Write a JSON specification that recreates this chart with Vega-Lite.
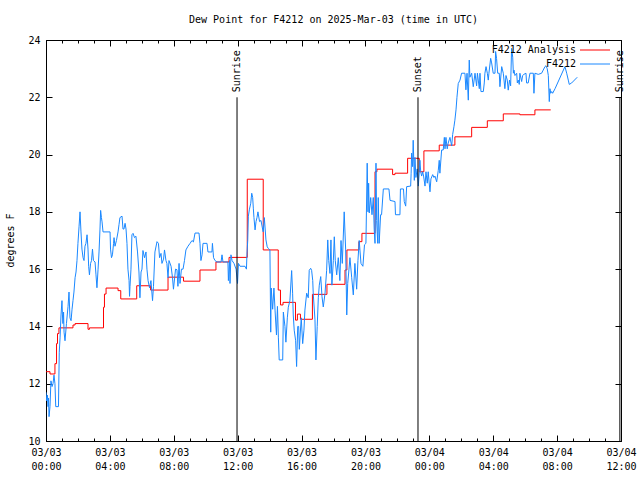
{
  "$schema": "https://vega.github.io/schema/vega-lite/v6.json",
  "width": 575,
  "height": 401,
  "autosize": {"type": "none"},
  "padding": {"left": 46, "top": 40, "right": 19, "bottom": 39},
  "background": "white",
  "title": {
    "text": "Dew Point for F4212 on 2025-Mar-03 (time in UTC)",
    "font": "DejaVu Sans Mono",
    "fontSize": 10,
    "fontWeight": "normal",
    "color": "black",
    "anchor": "middle",
    "offset": 10
  },
  "datasets": {
    "analysis": [
      {"hour": 0.00, "dew": 12.42}, {"hour": 0.25, "dew": 12.34}, {"hour": 0.56, "dew": 12.7}, {"hour": 0.66, "dew": 13.4},
      {"hour": 0.72, "dew": 13.75}, {"hour": 0.81, "dew": 13.95}, {"hour": 1.69, "dew": 14.05}, {"hour": 1.82, "dew": 14.1},
      {"hour": 2.63, "dew": 13.9}, {"hour": 2.72, "dew": 13.95}, {"hour": 3.60, "dew": 14.67}, {"hour": 3.66, "dew": 15.13},
      {"hour": 3.76, "dew": 15.34}, {"hour": 4.51, "dew": 15.25}, {"hour": 4.68, "dew": 14.96}, {"hour": 5.68, "dew": 15.42},
      {"hour": 6.55, "dew": 15.27}, {"hour": 7.64, "dew": 15.72}, {"hour": 8.61, "dew": 15.58}, {"hour": 9.64, "dew": 15.97},
      {"hour": 10.64, "dew": 16.25}, {"hour": 11.46, "dew": 16.41}, {"hour": 12.60, "dew": 19.14}, {"hour": 13.60, "dew": 16.67},
      {"hour": 14.54, "dew": 15.27}, {"hour": 14.68, "dew": 14.75}, {"hour": 14.84, "dew": 14.84}, {"hour": 15.62, "dew": 14.22},
      {"hour": 15.74, "dew": 14.43}, {"hour": 15.93, "dew": 14.25}, {"hour": 16.68, "dew": 15.12}, {"hour": 17.59, "dew": 15.47},
      {"hour": 18.72, "dew": 15.97}, {"hour": 18.84, "dew": 16.67}, {"hour": 19.59, "dew": 16.96}, {"hour": 19.78, "dew": 17.25},
      {"hour": 20.60, "dew": 19.4}, {"hour": 20.72, "dew": 19.49}, {"hour": 21.70, "dew": 19.3}, {"hour": 21.85, "dew": 19.35},
      {"hour": 22.64, "dew": 19.87}, {"hour": 23.37, "dew": 19.4}, {"hour": 23.66, "dew": 20.13}, {"hour": 24.62, "dew": 20.33},
      {"hour": 25.60, "dew": 20.62}, {"hour": 26.65, "dew": 20.95}, {"hour": 27.63, "dew": 21.18}, {"hour": 28.63, "dew": 21.42},
      {"hour": 29.67, "dew": 21.39}, {"hour": 30.61, "dew": 21.56}, {"hour": 31.60, "dew": 21.56}
    ],
    "obs": [
      {"hour": 0.00, "dew": 11.7}, {"hour": 0.04, "dew": 11.4}, {"hour": 0.09, "dew": 11.6}, {"hour": 0.13, "dew": 11.2},
      {"hour": 0.16, "dew": 11.5}, {"hour": 0.19, "dew": 10.85}, {"hour": 0.25, "dew": 11.2}, {"hour": 0.31, "dew": 12.1},
      {"hour": 0.38, "dew": 11.9}, {"hour": 0.44, "dew": 12.0}, {"hour": 0.50, "dew": 12.3}, {"hour": 0.56, "dew": 12.0},
      {"hour": 0.61, "dew": 11.2}, {"hour": 0.78, "dew": 11.2}, {"hour": 0.83, "dew": 13.1}, {"hour": 0.88, "dew": 13.6},
      {"hour": 0.94, "dew": 14.4}, {"hour": 1.00, "dew": 14.9}, {"hour": 1.03, "dew": 14.4}, {"hour": 1.06, "dew": 14.1},
      {"hour": 1.10, "dew": 14.5}, {"hour": 1.13, "dew": 13.8}, {"hour": 1.19, "dew": 13.5}, {"hour": 1.28, "dew": 14.1},
      {"hour": 1.38, "dew": 14.7}, {"hour": 1.44, "dew": 15.2}, {"hour": 1.50, "dew": 14.3}, {"hour": 1.57, "dew": 14.2},
      {"hour": 1.63, "dew": 14.6}, {"hour": 1.69, "dew": 14.9}, {"hour": 1.75, "dew": 15.2}, {"hour": 1.82, "dew": 15.7},
      {"hour": 1.88, "dew": 15.9}, {"hour": 1.94, "dew": 16.3}, {"hour": 2.00, "dew": 16.9}, {"hour": 2.07, "dew": 17.5},
      {"hour": 2.13, "dew": 18.0}, {"hour": 2.19, "dew": 17.3}, {"hour": 2.25, "dew": 16.7}, {"hour": 2.32, "dew": 16.4},
      {"hour": 2.38, "dew": 16.3}, {"hour": 2.44, "dew": 16.8}, {"hour": 2.50, "dew": 16.9}, {"hour": 2.57, "dew": 17.2},
      {"hour": 2.63, "dew": 16.7}, {"hour": 2.67, "dew": 16.1}, {"hour": 2.72, "dew": 15.8}, {"hour": 2.79, "dew": 16.2},
      {"hour": 2.85, "dew": 16.3}, {"hour": 2.91, "dew": 16.7}, {"hour": 2.97, "dew": 16.3}, {"hour": 3.07, "dew": 16.25},
      {"hour": 3.13, "dew": 15.8}, {"hour": 3.19, "dew": 15.35}, {"hour": 3.26, "dew": 16.0}, {"hour": 3.32, "dew": 16.6},
      {"hour": 3.38, "dew": 17.4}, {"hour": 3.42, "dew": 18.05}, {"hour": 3.47, "dew": 17.8}, {"hour": 3.51, "dew": 17.65},
      {"hour": 3.57, "dew": 17.3}, {"hour": 4.01, "dew": 17.3}, {"hour": 4.04, "dew": 16.7}, {"hour": 4.10, "dew": 16.4},
      {"hour": 4.16, "dew": 16.5}, {"hour": 4.23, "dew": 16.9}, {"hour": 4.26, "dew": 17.1}, {"hour": 4.32, "dew": 16.8},
      {"hour": 4.41, "dew": 17.0}, {"hour": 4.51, "dew": 17.3}, {"hour": 4.57, "dew": 17.55}, {"hour": 4.63, "dew": 17.8},
      {"hour": 4.76, "dew": 17.85}, {"hour": 4.82, "dew": 17.4}, {"hour": 4.88, "dew": 17.4}, {"hour": 4.95, "dew": 17.6},
      {"hour": 5.01, "dew": 17.4}, {"hour": 5.07, "dew": 16.9}, {"hour": 5.13, "dew": 16.0}, {"hour": 5.20, "dew": 15.6},
      {"hour": 5.23, "dew": 15.05}, {"hour": 5.26, "dew": 15.4}, {"hour": 5.32, "dew": 16.0}, {"hour": 5.38, "dew": 17.2},
      {"hour": 5.45, "dew": 17.25}, {"hour": 5.54, "dew": 17.1}, {"hour": 5.63, "dew": 17.15}, {"hour": 5.73, "dew": 16.6},
      {"hour": 5.82, "dew": 15.9}, {"hour": 5.88, "dew": 15.0}, {"hour": 5.95, "dew": 15.9}, {"hour": 6.01, "dew": 16.0},
      {"hour": 6.07, "dew": 16.65}, {"hour": 6.17, "dew": 16.4}, {"hour": 6.26, "dew": 16.6}, {"hour": 6.32, "dew": 16.0},
      {"hour": 6.39, "dew": 15.6}, {"hour": 6.48, "dew": 15.35}, {"hour": 6.57, "dew": 15.6}, {"hour": 6.67, "dew": 14.9},
      {"hour": 6.73, "dew": 15.4}, {"hour": 6.82, "dew": 16.6}, {"hour": 6.95, "dew": 16.96}, {"hour": 7.04, "dew": 16.9},
      {"hour": 7.11, "dew": 16.4}, {"hour": 7.20, "dew": 16.55}, {"hour": 7.26, "dew": 16.2}, {"hour": 7.36, "dew": 16.35},
      {"hour": 7.42, "dew": 16.67}, {"hour": 7.51, "dew": 16.3}, {"hour": 7.57, "dew": 16.2}, {"hour": 7.64, "dew": 15.7},
      {"hour": 7.70, "dew": 16.3}, {"hour": 7.83, "dew": 16.1}, {"hour": 7.92, "dew": 15.7}, {"hour": 7.98, "dew": 15.3},
      {"hour": 8.11, "dew": 16.0}, {"hour": 8.20, "dew": 15.98}, {"hour": 8.26, "dew": 15.4}, {"hour": 8.33, "dew": 16.2},
      {"hour": 8.39, "dew": 15.5}, {"hour": 8.48, "dew": 16.0}, {"hour": 8.58, "dew": 16.0}, {"hour": 8.67, "dew": 16.3},
      {"hour": 8.76, "dew": 16.67}, {"hour": 8.89, "dew": 16.8}, {"hour": 9.02, "dew": 16.9}, {"hour": 9.14, "dew": 17.0},
      {"hour": 9.23, "dew": 16.95}, {"hour": 9.33, "dew": 17.26}, {"hour": 9.58, "dew": 17.26}, {"hour": 9.64, "dew": 16.9},
      {"hour": 9.70, "dew": 16.3}, {"hour": 9.77, "dew": 16.5}, {"hour": 9.83, "dew": 16.9}, {"hour": 10.08, "dew": 16.9},
      {"hour": 10.14, "dew": 16.6}, {"hour": 10.39, "dew": 16.6}, {"hour": 10.42, "dew": 16.9}, {"hour": 10.49, "dew": 16.4},
      {"hour": 10.58, "dew": 16.3}, {"hour": 10.70, "dew": 16.25}, {"hour": 10.96, "dew": 16.25}, {"hour": 11.02, "dew": 16.5},
      {"hour": 11.08, "dew": 16.25}, {"hour": 11.39, "dew": 16.25}, {"hour": 11.42, "dew": 15.6}, {"hour": 11.49, "dew": 16.3},
      {"hour": 11.52, "dew": 15.5}, {"hour": 11.58, "dew": 16.5}, {"hour": 11.65, "dew": 16.3}, {"hour": 11.77, "dew": 16.2},
      {"hour": 11.90, "dew": 16.0}, {"hour": 11.99, "dew": 15.5}, {"hour": 12.05, "dew": 16.2}, {"hour": 12.15, "dew": 16.1},
      {"hour": 12.46, "dew": 16.1}, {"hour": 12.55, "dew": 16.0}, {"hour": 12.58, "dew": 16.5}, {"hour": 12.63, "dew": 17.0},
      {"hour": 12.67, "dew": 17.85}, {"hour": 12.73, "dew": 18.07}, {"hour": 12.82, "dew": 18.3}, {"hour": 12.88, "dew": 18.65},
      {"hour": 12.94, "dew": 18.5}, {"hour": 12.98, "dew": 18.13}, {"hour": 13.02, "dew": 17.8}, {"hour": 13.09, "dew": 17.37},
      {"hour": 13.15, "dew": 17.66}, {"hour": 13.21, "dew": 17.8}, {"hour": 13.27, "dew": 18.0}, {"hour": 13.37, "dew": 17.66},
      {"hour": 13.46, "dew": 17.7}, {"hour": 13.56, "dew": 17.4}, {"hour": 13.60, "dew": 17.3}, {"hour": 13.67, "dew": 17.8},
      {"hour": 13.77, "dew": 17.02}, {"hour": 13.85, "dew": 16.78}, {"hour": 13.92, "dew": 16.72}, {"hour": 14.02, "dew": 16.67},
      {"hour": 14.07, "dew": 13.8}, {"hour": 14.10, "dew": 15.34}, {"hour": 14.19, "dew": 14.6}, {"hour": 14.27, "dew": 15.34},
      {"hour": 14.34, "dew": 14.57}, {"hour": 14.43, "dew": 13.7}, {"hour": 14.49, "dew": 14.7}, {"hour": 14.55, "dew": 13.6},
      {"hour": 14.60, "dew": 12.83}, {"hour": 14.82, "dew": 12.83}, {"hour": 14.86, "dew": 14.5}, {"hour": 14.96, "dew": 14.0},
      {"hour": 15.02, "dew": 13.45}, {"hour": 15.11, "dew": 14.3}, {"hour": 15.17, "dew": 14.67}, {"hour": 15.27, "dew": 14.9},
      {"hour": 15.38, "dew": 15.95}, {"hour": 15.44, "dew": 15.16}, {"hour": 15.48, "dew": 14.4}, {"hour": 15.54, "dew": 13.87},
      {"hour": 15.63, "dew": 13.5}, {"hour": 15.69, "dew": 12.6}, {"hour": 15.76, "dew": 14.0}, {"hour": 15.82, "dew": 14.0},
      {"hour": 15.86, "dew": 13.2}, {"hour": 15.92, "dew": 13.77}, {"hour": 15.98, "dew": 14.3}, {"hour": 16.07, "dew": 13.4},
      {"hour": 16.15, "dew": 13.87}, {"hour": 16.21, "dew": 14.57}, {"hour": 16.32, "dew": 15.16}, {"hour": 16.42, "dew": 15.0},
      {"hour": 16.48, "dew": 15.96}, {"hour": 16.57, "dew": 16.03}, {"hour": 16.63, "dew": 15.96}, {"hour": 16.70, "dew": 15.6},
      {"hour": 16.73, "dew": 15.17}, {"hour": 16.84, "dew": 14.23}, {"hour": 16.90, "dew": 12.83}, {"hour": 16.98, "dew": 14.0},
      {"hour": 17.05, "dew": 15.0}, {"hour": 17.11, "dew": 15.44}, {"hour": 17.20, "dew": 15.74}, {"hour": 17.28, "dew": 15.04},
      {"hour": 17.36, "dew": 14.68}, {"hour": 17.47, "dew": 15.16}, {"hour": 17.57, "dew": 15.96}, {"hour": 17.64, "dew": 17.02},
      {"hour": 17.70, "dew": 16.3}, {"hour": 17.78, "dew": 15.85}, {"hour": 17.84, "dew": 17.02}, {"hour": 17.90, "dew": 15.44},
      {"hour": 17.99, "dew": 16.3}, {"hour": 18.05, "dew": 17.13}, {"hour": 18.11, "dew": 16.3}, {"hour": 18.20, "dew": 15.8},
      {"hour": 18.30, "dew": 16.4}, {"hour": 18.40, "dew": 15.6}, {"hour": 18.47, "dew": 17.0}, {"hour": 18.55, "dew": 16.2},
      {"hour": 18.67, "dew": 18.0}, {"hour": 18.76, "dew": 16.7}, {"hour": 18.83, "dew": 14.4}, {"hour": 18.89, "dew": 15.5},
      {"hour": 18.97, "dew": 16.0}, {"hour": 19.03, "dew": 16.4}, {"hour": 19.14, "dew": 15.7}, {"hour": 19.24, "dew": 15.1},
      {"hour": 19.34, "dew": 16.2}, {"hour": 19.45, "dew": 15.3}, {"hour": 19.53, "dew": 16.3}, {"hour": 19.61, "dew": 17.0},
      {"hour": 19.72, "dew": 16.2}, {"hour": 19.84, "dew": 16.1}, {"hour": 19.94, "dew": 16.85}, {"hour": 20.03, "dew": 16.9},
      {"hour": 20.11, "dew": 19.7}, {"hour": 20.16, "dew": 18.0}, {"hour": 20.20, "dew": 19.0}, {"hour": 20.24, "dew": 17.96},
      {"hour": 20.33, "dew": 18.5}, {"hour": 20.41, "dew": 17.9}, {"hour": 20.49, "dew": 18.5}, {"hour": 20.55, "dew": 17.37},
      {"hour": 20.60, "dew": 16.9}, {"hour": 20.66, "dew": 19.7}, {"hour": 20.70, "dew": 17.7}, {"hour": 20.77, "dew": 16.9},
      {"hour": 20.80, "dew": 18.5}, {"hour": 20.86, "dew": 16.9}, {"hour": 20.95, "dew": 17.9}, {"hour": 21.01, "dew": 17.9},
      {"hour": 21.12, "dew": 18.8}, {"hour": 21.47, "dew": 18.8}, {"hour": 21.54, "dew": 18.4}, {"hour": 21.85, "dew": 18.36},
      {"hour": 21.88, "dew": 17.9}, {"hour": 22.16, "dew": 17.9}, {"hour": 22.19, "dew": 18.8}, {"hour": 22.38, "dew": 18.8},
      {"hour": 22.43, "dew": 18.36}, {"hour": 22.52, "dew": 18.2}, {"hour": 22.58, "dew": 18.88}, {"hour": 22.83, "dew": 18.9},
      {"hour": 22.86, "dew": 19.35}, {"hour": 22.89, "dew": 20.05}, {"hour": 22.95, "dew": 19.58}, {"hour": 22.99, "dew": 20.5},
      {"hour": 23.06, "dew": 19.1}, {"hour": 23.10, "dew": 19.9}, {"hour": 23.16, "dew": 19.2}, {"hour": 23.24, "dew": 19.5},
      {"hour": 23.31, "dew": 18.9}, {"hour": 23.37, "dew": 19.4}, {"hour": 23.41, "dew": 19.8}, {"hour": 23.46, "dew": 19.4},
      {"hour": 23.52, "dew": 19.25}, {"hour": 23.58, "dew": 19.4}, {"hour": 23.64, "dew": 19.25}, {"hour": 23.73, "dew": 18.9},
      {"hour": 23.79, "dew": 19.4}, {"hour": 23.87, "dew": 19.0}, {"hour": 23.93, "dew": 19.4}, {"hour": 24.04, "dew": 18.7},
      {"hour": 24.10, "dew": 19.15}, {"hour": 24.21, "dew": 19.3}, {"hour": 24.29, "dew": 19.2}, {"hour": 24.35, "dew": 19.25},
      {"hour": 24.46, "dew": 19.05}, {"hour": 24.56, "dew": 19.45}, {"hour": 24.62, "dew": 19.8}, {"hour": 24.66, "dew": 19.35},
      {"hour": 24.77, "dew": 20.16}, {"hour": 24.87, "dew": 20.16}, {"hour": 24.94, "dew": 20.6}, {"hour": 24.98, "dew": 20.2},
      {"hour": 25.04, "dew": 20.6}, {"hour": 25.12, "dew": 20.2}, {"hour": 25.18, "dew": 20.4}, {"hour": 25.29, "dew": 20.6},
      {"hour": 25.40, "dew": 20.3}, {"hour": 25.46, "dew": 20.7}, {"hour": 25.54, "dew": 20.97}, {"hour": 25.60, "dew": 21.2},
      {"hour": 25.67, "dew": 21.56}, {"hour": 25.73, "dew": 22.0}, {"hour": 25.81, "dew": 22.48}, {"hour": 25.92, "dew": 22.6},
      {"hour": 26.02, "dew": 22.84}, {"hour": 26.23, "dew": 22.84}, {"hour": 26.29, "dew": 22.26}, {"hour": 26.36, "dew": 22.84},
      {"hour": 26.44, "dew": 21.9}, {"hour": 26.50, "dew": 23.3}, {"hour": 26.54, "dew": 22.7}, {"hour": 26.65, "dew": 22.84},
      {"hour": 26.75, "dew": 22.37}, {"hour": 26.86, "dew": 22.84}, {"hour": 26.96, "dew": 22.4}, {"hour": 27.01, "dew": 22.84},
      {"hour": 27.13, "dew": 22.3}, {"hour": 27.17, "dew": 22.84}, {"hour": 27.23, "dew": 22.2}, {"hour": 27.38, "dew": 22.2},
      {"hour": 27.44, "dew": 22.5}, {"hour": 27.48, "dew": 22.84}, {"hour": 27.55, "dew": 23.07}, {"hour": 27.63, "dew": 22.84},
      {"hour": 27.69, "dew": 22.6}, {"hour": 27.73, "dew": 22.84}, {"hour": 27.84, "dew": 23.36}, {"hour": 27.90, "dew": 23.2},
      {"hour": 28.00, "dew": 22.84}, {"hour": 28.11, "dew": 22.84}, {"hour": 28.15, "dew": 23.6}, {"hour": 28.21, "dew": 23.35},
      {"hour": 28.28, "dew": 22.84}, {"hour": 28.38, "dew": 22.84}, {"hour": 28.42, "dew": 22.37}, {"hour": 28.53, "dew": 23.07},
      {"hour": 28.63, "dew": 22.84}, {"hour": 28.73, "dew": 22.3}, {"hour": 28.80, "dew": 22.76}, {"hour": 28.88, "dew": 22.6},
      {"hour": 28.94, "dew": 22.25}, {"hour": 29.02, "dew": 22.6}, {"hour": 29.09, "dew": 22.4}, {"hour": 29.15, "dew": 23.71},
      {"hour": 29.22, "dew": 23.4}, {"hour": 29.26, "dew": 22.84}, {"hour": 29.30, "dew": 22.95}, {"hour": 29.36, "dew": 22.76},
      {"hour": 29.47, "dew": 22.84}, {"hour": 29.51, "dew": 22.5}, {"hour": 29.57, "dew": 22.6}, {"hour": 29.63, "dew": 22.45},
      {"hour": 29.67, "dew": 22.84}, {"hour": 29.78, "dew": 22.55}, {"hour": 29.84, "dew": 22.76}, {"hour": 29.92, "dew": 22.8},
      {"hour": 30.05, "dew": 22.84}, {"hour": 30.09, "dew": 22.5}, {"hour": 30.19, "dew": 22.5}, {"hour": 30.30, "dew": 22.84},
      {"hour": 30.51, "dew": 22.84}, {"hour": 30.55, "dew": 22.14}, {"hour": 30.61, "dew": 22.84}, {"hour": 30.82, "dew": 22.8},
      {"hour": 31.03, "dew": 22.84}, {"hour": 31.13, "dew": 22.95}, {"hour": 31.24, "dew": 23.07}, {"hour": 31.30, "dew": 23.1},
      {"hour": 31.38, "dew": 23.0}, {"hour": 31.45, "dew": 22.76}, {"hour": 31.51, "dew": 21.85}, {"hour": 31.55, "dew": 22.3},
      {"hour": 31.60, "dew": 22.14}, {"hour": 31.66, "dew": 22.2}, {"hour": 31.72, "dew": 22.14}, {"hour": 31.87, "dew": 22.3},
      {"hour": 32.49, "dew": 23.07}, {"hour": 32.60, "dew": 22.84}, {"hour": 32.70, "dew": 22.6}, {"hour": 32.76, "dew": 22.45},
      {"hour": 32.91, "dew": 22.5}, {"hour": 33.26, "dew": 22.7}
    ],
    "events": [
      {"hour": 11.96, "event": "Sunrise"},
      {"hour": 23.29, "event": "Sunset"},
      {"hour": 35.93, "event": "Sunrise"}
    ]
  },
  "layer": [
    {
      "data": {"name": "analysis"},
      "mark": {"type": "line", "interpolate": "step-after", "strokeWidth": 1, "clip": true},
      "encoding": {
        "x": {"field": "hour", "type": "quantitative", "scale": {"domain": [0, 36], "nice": false, "zero": false},
          "axis": {"orient": "bottom", "values": [0, 4, 8, 12, 16, 20, 24, 28, 32, 36], "ticks": false, "domain": false, "grid": false,
            "title": null, "labelPadding": 6, "labelLineHeight": 14, "labelBaseline": "top", "labelFlush": false, "labelOverlap": false,
            "labelExpr": "['03/0' + (3 + floor(datum.value / 24)), (datum.value % 24 < 10 ? '0' : '') + (datum.value % 24) + ':00']"}},
        "y": {"field": "dew", "type": "quantitative", "scale": {"domain": [10, 24], "nice": false, "zero": false},
          "axis": {"orient": "left", "values": [10, 12, 14, 16, 18, 20, 22, 24], "ticks": false, "domain": false, "grid": false,
            "labelPadding": 6, "title": "degrees F", "titleX": -36, "titleY": 200, "titleAngle": 270, "titleAlign": "center", "titleBaseline": "middle",
            "titleFont": "DejaVu Sans Mono", "titleFontSize": 10, "titleFontWeight": "normal", "titleColor": "black"}},
        "color": {"datum": "F4212 Analysis", "type": "nominal",
          "scale": {"domain": ["F4212 Analysis", "F4212"], "range": ["#ff0000", "#1a88ff"]},
          "legend": {"orient": "none", "legendX": 544, "legendY": 5, "title": null, "symbolType": "M-5,0H5", "symbolSize": 36,
            "symbolStrokeWidth": 1, "labelAlign": "right", "labelOffset": -24, "labelFont": "DejaVu Sans Mono", "labelFontSize": 10,
            "labelColor": "black", "rowPadding": 4}}
      }
    },
    {
      "data": {"name": "obs"},
      "mark": {"type": "line", "strokeWidth": 1, "clip": true},
      "encoding": {
        "x": {"field": "hour", "type": "quantitative",
          "axis": {"orient": "bottom", "values": [0, 4, 8, 12, 16, 20, 24, 28, 32, 36], "labels": false, "domain": false, "grid": false,
            "title": null, "tickSize": -6, "tickColor": "black"}},
        "y": {"field": "dew", "type": "quantitative",
          "axis": {"orient": "left", "values": [10, 12, 14, 16, 18, 20, 22, 24], "labels": false, "domain": false, "grid": false,
            "title": null, "tickSize": -6, "tickColor": "black"}},
        "color": {"datum": "F4212", "type": "nominal"}
      }
    },
    {
      "data": {"name": "events"},
      "mark": {"type": "rule", "color": "black", "strokeWidth": 1},
      "encoding": {
        "x": {"field": "hour", "type": "quantitative",
          "axis": {"orient": "top", "values": [0, 4, 8, 12, 16, 20, 24, 28, 32, 36], "labels": false, "domain": false, "grid": false,
            "title": null, "tickSize": -6, "tickColor": "black"}},
        "y": {"datum": 10, "type": "quantitative",
          "axis": {"orient": "right", "values": [10, 12, 14, 16, 18, 20, 22, 24], "labels": false, "domain": false, "grid": false,
            "title": null, "tickSize": -6, "tickColor": "black"}},
        "y2": {"datum": 22}
      }
    },
    {
      "data": {"name": "events"},
      "mark": {"type": "text", "angle": 270, "align": "left", "baseline": "middle", "dx": 5, "font": "DejaVu Sans Mono", "fontSize": 10, "color": "black"},
      "encoding": {
        "x": {"field": "hour", "type": "quantitative",
          "axis": {"orient": "bottom", "values": [0, 1, 2, 3, 4, 5, 6, 7, 8, 9, 10, 11, 12, 13, 14, 15, 16, 17, 18, 19, 20, 21, 22, 23, 24, 25, 26, 27, 28, 29, 30, 31, 32, 33, 34, 35, 36],
            "labels": false, "domain": false, "grid": false, "title": null, "tickSize": -3, "tickColor": "black"}},
        "y": {"datum": 22, "type": "quantitative", "axis": null},
        "text": {"field": "event"}
      }
    },
    {
      "data": {"name": "events"},
      "mark": {"type": "point", "opacity": 0},
      "encoding": {
        "x": {"field": "hour", "type": "quantitative",
          "axis": {"orient": "top", "values": [0, 1, 2, 3, 4, 5, 6, 7, 8, 9, 10, 11, 12, 13, 14, 15, 16, 17, 18, 19, 20, 21, 22, 23, 24, 25, 26, 27, 28, 29, 30, 31, 32, 33, 34, 35, 36],
            "labels": false, "domain": false, "grid": false, "title": null, "tickSize": -3, "tickColor": "black"}},
        "y": {"datum": 22, "type": "quantitative", "axis": null}
      }
    }
  ],
  "resolve": {"axis": {"x": "independent", "y": "independent"}},
  "config": {
    "font": "DejaVu Sans Mono",
    "view": {"stroke": "black", "strokeWidth": 1},
    "axis": {"labelFont": "DejaVu Sans Mono", "labelFontSize": 10, "labelColor": "black", "tickWidth": 1}
  }
}
